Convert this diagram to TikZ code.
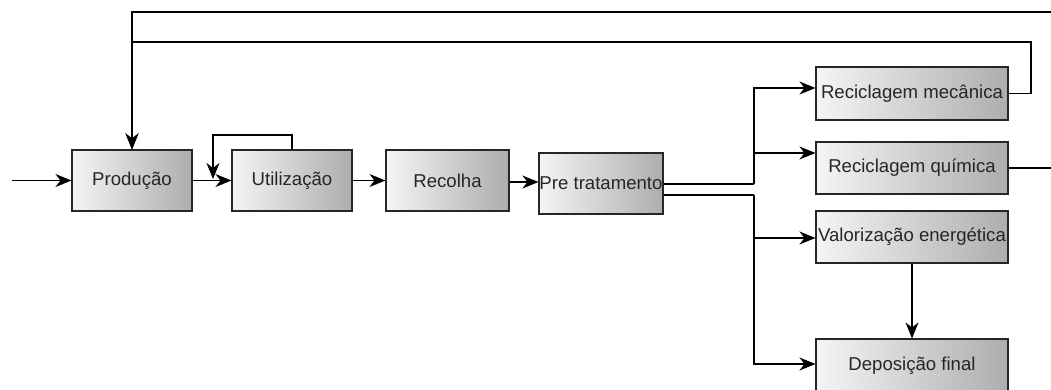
\documentclass[tikz,border=0pt]{standalone}
\usepackage{fontspec}
\setmainfont{Liberation Sans}
\usetikzlibrary{arrows.meta}

\begin{document}
\begin{tikzpicture}[x=1pt,y=-1pt,
    caixa/.style={draw=black!85, line width=1.1pt, inner sep=0pt,
        left color=white!96!black, right color=black!32,
        text=black!85, align=center},
    seta/.style={line width=1.2pt, -{Stealth[length=16pt,width=13pt,inset=5pt]}},
    linha/.style={line width=1.2pt}]
                \useasboundingbox (0,0) rectangle (1051,390);
                {\fontsize{18.6}{20}\selectfont

                % Drawing box Producao
                \node [caixa, minimum width=120pt, minimum height=61pt] (prod) at (132,180.5) {Produção};

                % Drawing box Utilizacao
                \node [caixa, minimum width=120pt, minimum height=61pt] (util) at (292,180.5) {Utilização};

                % Drawing box Recolha
                \node [caixa, minimum width=123pt, minimum height=61pt] (recolha) at (447.5,180.5) {Recolha};

                % Drawing box Pre tratamento
                \node [caixa, minimum width=124pt, minimum height=61pt] (pretrat) at (601,183.5) {Pre tratamento};

                % Drawing boxes on the right
                \node [caixa, minimum width=192pt, minimum height=53pt] (mec) at (912,93.5) {Reciclagem mecânica};
                \node [caixa, minimum width=192pt, minimum height=52pt] (quim) at (912,168) {Reciclagem química};
                \node [caixa, minimum width=192pt, minimum height=52pt] (valor) at (912,237) {Valorização energética};
                \node [caixa, minimum width=192pt, minimum height=53pt] (depos) at (912,365.5) {Deposição final};

                % Coordinates of the bends
                \coordinate (entrada) at (12,180.5);
                \coordinate (loopa) at (213,135);
                \coordinate (loopb) at (213,179);
                \coordinate (splita) at (754,184);
                \coordinate (splitb) at (754,195);
                \coordinate (retmec) at (1031,42);
                \coordinate (retquim) at (1053,12);

                % Drawing main flow
                \draw [seta] (entrada) -- (prod.west);%
                \draw [seta] (prod.east) -- (util.west);%
                \draw [seta] (util.north) |- (loopa) -- (loopb);%
                \draw [seta] (util.east) -- (recolha.west);%
                \draw [seta] ([yshift=-1.5pt]recolha.east) -- ([yshift=-1.5pt]recolha.east -| pretrat.west);%

                % Drawing split after Pre tratamento
                \draw [linha] (pretrat.east |- splita) -- (splita);%
                \draw [seta] (splita) |- ([yshift=5.5pt]mec.west);%
                \draw [seta] (splita) |- ([yshift=15pt]quim.west);%
                \draw [linha] (pretrat.east |- splitb) -- (splitb);%
                \draw [seta] (splitb) |- ([yshift=-1pt]valor.west);%
                \draw [seta] (splitb) |- ([yshift=1.5pt]depos.west);%
                \draw [seta] (valor.south) -- (depos.north);%

                % Drawing return lines to Producao
                \draw [seta] (mec.east) -| (retmec) -- (retmec -| prod.north) -- (prod.north);%
                \draw [seta] (quim.east) -| (retquim) -- (retquim -| prod.north) -- (prod.north);%
                }
\end{tikzpicture}
\end{document}
